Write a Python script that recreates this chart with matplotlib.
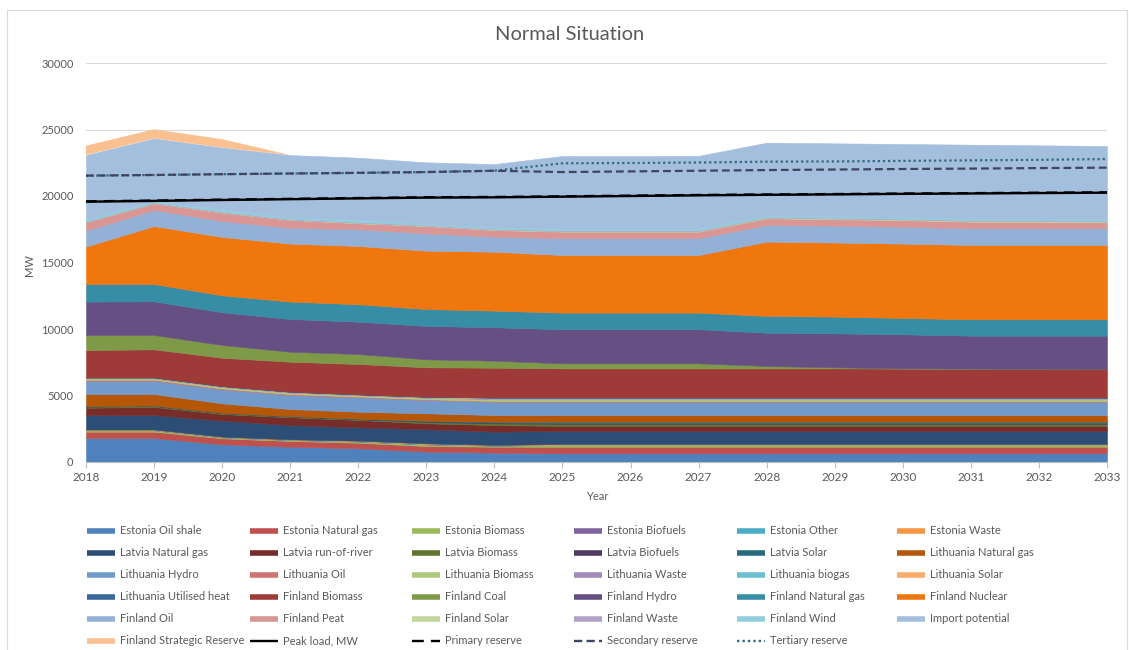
import matplotlib
matplotlib.use("Agg")
import matplotlib.pyplot as plt
from matplotlib.lines import Line2D
from matplotlib.patches import Rectangle

plt.rcParams['font.family'] = ['Lato', 'DejaVu Sans']

years = list(range(2018, 2034))

# capacities, MW (bottom to top of the stack)
est_oil_shale = [1800, 1800, 1330, 1150, 1030, 780, 700, 650, 650, 650, 650, 650, 650, 650, 650, 650]
est_gas = [480, 480, 450, 430, 420, 420, 450, 500, 500, 500, 500, 500, 500, 500, 500, 500]
est_biomass = [100, 100, 70, 70, 90, 120, 80, 120, 120, 120, 120, 120, 120, 120, 120, 120]
est_biofuels = [10, 10, 10, 10, 10, 10, 10, 10, 10, 10, 10, 10, 10, 10, 10, 10]
est_other = [20, 20, 20, 20, 20, 20, 20, 20, 20, 20, 20, 20, 20, 20, 20, 20]
est_waste = [30, 30, 20, 20, 30, 50, 20, 50, 50, 50, 50, 50, 50, 50, 50, 50]
lv_gas = [1090, 1090, 1210, 1080, 1010, 1060, 1000, 980, 980, 980, 980, 980, 980, 980, 980, 980]
lv_river = [550, 610, 500, 580, 550, 450, 500, 380, 380, 380, 380, 380, 380, 380, 380, 380]
lv_biomass = [80, 70, 60, 60, 60, 110, 130, 160, 160, 160, 160, 160, 160, 160, 160, 160]
lv_biofuels = [20, 20, 10, 10, 10, 30, 40, 40, 40, 40, 40, 40, 40, 40, 40, 40]
lv_solar = [20, 20, 20, 20, 30, 60, 80, 120, 120, 120, 120, 120, 120, 120, 120, 120]
lt_gas = [910, 860, 710, 530, 520, 550, 500, 500, 500, 500, 500, 500, 500, 500, 500, 500]
lt_hydro = [1000, 1000, 1050, 1060, 1080, 1000, 1000, 1000, 1000, 1000, 1000, 1000, 1000, 1000, 1000, 1000]
lt_oil = [80, 80, 70, 70, 60, 60, 60, 60, 60, 60, 60, 60, 60, 60, 60, 60]
lt_biomass = [100, 100, 110, 110, 100, 110, 140, 140, 140, 140, 140, 140, 140, 140, 140, 140]
lt_waste = [20, 20, 20, 20, 20, 20, 30, 30, 30, 30, 30, 30, 30, 30, 30, 30]
lt_biogas = [20, 20, 20, 20, 20, 20, 20, 20, 20, 20, 20, 20, 20, 20, 20, 20]
lt_solar = [10, 10, 10, 10, 10, 20, 50, 50, 50, 50, 50, 50, 50, 50, 50, 50]
lt_heat = [20, 20, 20, 20, 20, 20, 20, 20, 20, 20, 20, 20, 20, 20, 20, 20]
fi_biomass = [2060, 2110, 2130, 2250, 2280, 2210, 2240, 2190, 2190, 2190, 2190, 2190, 2170, 2150, 2150, 2140]
fi_coal = [1130, 1080, 960, 750, 750, 600, 530, 380, 380, 380, 180, 80, 30, 20, 10, 10]
fi_hydro = [2510, 2530, 2460, 2460, 2430, 2510, 2510, 2560, 2560, 2560, 2500, 2550, 2550, 2480, 2490, 2500]
fi_gas = [1320, 1300, 1270, 1310, 1310, 1270, 1250, 1250, 1250, 1250, 1260, 1260, 1230, 1230, 1230, 1230]
fi_nuclear = [2820, 4360, 4390, 4360, 4380, 4390, 4430, 4330, 4330, 4330, 5590, 5570, 5590, 5590, 5590, 5590]
fi_oil = [1200, 1210, 1200, 1190, 1260, 1300, 1130, 1260, 1260, 1260, 1250, 1270, 1270, 1250, 1250, 1250]
fi_peat = [630, 500, 630, 590, 450, 550, 500, 500, 500, 500, 500, 480, 500, 500, 480, 450]
fi_solar = [10, 10, 20, 20, 30, 30, 30, 40, 40, 40, 50, 50, 50, 60, 60, 60]
fi_waste = [50, 50, 50, 50, 50, 50, 50, 50, 50, 50, 50, 50, 50, 50, 50, 50]
fi_wind = [200, 100, 200, 150, 200, 100, 150, 150, 150, 150, 150, 150, 150, 150, 150, 150]
import_potential = [4790, 4720, 4620, 4660, 4650, 4610, 4730, 5450, 5440, 5460, 5440, 5460, 5470, 5530, 5500, 5480]
fi_strategic = [700, 680, 630, 0, 0, 0, 0, 0, 0, 0, 0, 0, 0, 0, 0, 0]

peak_load = [19570, 19630, 19700, 19760, 19820, 19880, 19900, 19950, 20000, 20050, 20090, 20120, 20160, 20190, 20220, 20250]
primary_reserve = [19600, 19660, 19730, 19790, 19850, 19910, 19930, 19980, 20030, 20080, 20120, 20150, 20190, 20220, 20250, 20280]
secondary_reserve = [21530, 21580, 21640, 21690, 21740, 21800, 21900, 21800, 21850, 21900, 21950, 21990, 22030, 22060, 22100, 22130]
tertiary_reserve = [21530, 21580, 21640, 21690, 21740, 21800, 21900, 22460, 22480, 22520, 22580, 22600, 22640, 22680, 22720, 22780]

areas = [
    ("Estonia Oil shale", est_oil_shale, "#4F81BD"),
    ("Estonia Natural gas", est_gas, "#C0504D"),
    ("Estonia Biomass", est_biomass, "#9BBB59"),
    ("Estonia Biofuels", est_biofuels, "#8064A2"),
    ("Estonia Other", est_other, "#4BACC6"),
    ("Estonia Waste", est_waste, "#F79646"),
    ("Latvia Natural gas", lv_gas, "#2C4D75"),
    ("Latvia run-of-river", lv_river, "#772C2A"),
    ("Latvia Biomass", lv_biomass, "#5F7530"),
    ("Latvia Biofuels", lv_biofuels, "#4D3B62"),
    ("Latvia Solar", lv_solar, "#276A7C"),
    ("Lithuania Natural gas", lt_gas, "#B65708"),
    ("Lithuania Hydro", lt_hydro, "#729ACA"),
    ("Lithuania Oil", lt_oil, "#CD7371"),
    ("Lithuania Biomass", lt_biomass, "#AFC97A"),
    ("Lithuania Waste", lt_waste, "#A18AB7"),
    ("Lithuania biogas", lt_biogas, "#6FBDD1"),
    ("Lithuania Solar", lt_solar, "#F9AB6B"),
    ("Lithuania Utilised heat", lt_heat, "#3A679C"),
    ("Finland Biomass", fi_biomass, "#9E3B39"),
    ("Finland Coal", fi_coal, "#7E9A48"),
    ("Finland Hydro", fi_hydro, "#664F83"),
    ("Finland Natural gas", fi_gas, "#368DA5"),
    ("Finland Nuclear", fi_nuclear, "#F0760E"),
    ("Finland Oil", fi_oil, "#93B0D6"),
    ("Finland Peat", fi_peat, "#D99694"),
    ("Finland Solar", fi_solar, "#C3D69B"),
    ("Finland Waste", fi_waste, "#B3A2C7"),
    ("Finland Wind", fi_wind, "#93CDDD"),
    ("Import potential", import_potential, "#A4BEDD"),
    ("Finland Strategic Reserve", fi_strategic, "#FAC090"),
]

lines = [
    ("Peak load, MW", peak_load, "black", "-", 1.7),
    ("Primary reserve", primary_reserve, "black", (0, (5, 3)), 1.6),
    ("Secondary reserve", secondary_reserve, "#3F4460", (0, (3.5, 1.8)), 1.6),
    ("Tertiary reserve", tertiary_reserve, "#2E6B80", (0, (1, 1.3)), 1.6),
]

fig = plt.figure(figsize=(11.29, 6.5), dpi=100)
fig.add_artist(Rectangle((7 / 1129, -0.01), 1120 / 1129, 1 - 10 / 650 + 0.01, transform=fig.transFigure,
                         fill=False, edgecolor="#D9D9D9", lw=0.8))
ax = fig.add_axes([86 / 1129, 1 - 462 / 650, 1021 / 1129, 399 / 650])

polys = ax.stackplot(years, *[a[1] for a in areas], colors=[a[2] for a in areas], lw=0)
for p in polys[:-1]:
    # thin stroke in the fill colour hides the seams between layers
    p.set_edgecolor(p.get_facecolor())
    p.set_linewidth(0.4)

# tertiary below secondary so the dashes show where they coincide
for name, vals, col, ls, lw in [lines[0], lines[1], lines[3], lines[2]]:
    ax.plot(years, vals, color=col, linestyle=ls, lw=lw)

ax.set_xlim(2018, 2033)
ax.set_ylim(0, 30000)
ax.set_xticks(years)
ax.set_yticks(range(0, 30001, 5000))
ax.set_axisbelow(True)
ax.yaxis.grid(True, color="#D9D9D9", lw=0.8)
for s in ["left", "right", "top"]:
    ax.spines[s].set_visible(False)
ax.spines["bottom"].set_color("#BFBFBF")
ax.tick_params(axis="y", length=0, pad=9, labelsize=8, labelcolor="#595959")
ax.tick_params(axis="x", length=4, width=0.8, color="#BFBFBF", pad=3, labelsize=8.5, labelcolor="#595959")

fig.text(30 / 1129, 1 - 265 / 650, "MW", rotation=90, ha="center", va="center", fontsize=8, color="#595959")
fig.text(597 / 1129, 1 - 497 / 650, "Year", ha="center", va="center", fontsize=8, color="#595959")
fig.text(570 / 1129, 1 - 35 / 650, "Normal Situation", ha="center", va="center", fontsize=14.5, color="#595959")

# legend laid out like the spreadsheet: six fixed-width columns, row by row
legend_items = [(a[0], a[2], "-", 4.0) for a in areas] + [(l[0], l[2], l[3], 1.7) for l in lines]
col_x = [120, 283, 445, 607, 770, 930]
row_y = [531, 553, 575, 597, 619, 641]
for i, (label, col, ls, lw) in enumerate(legend_items):
    r, c = divmod(i, 6)
    tx = col_x[c]
    ty = 1 - row_y[r] / 650
    fig.add_artist(Line2D([(tx - 33) / 1129, (tx - 5) / 1129], [ty, ty], transform=fig.transFigure,
                          color=col, linestyle=ls, lw=lw, solid_capstyle="butt"))
    fig.text(tx / 1129, ty, label, ha="left", va="center", fontsize=8, color="#595959")

fig.savefig("out.png", dpi=100)
